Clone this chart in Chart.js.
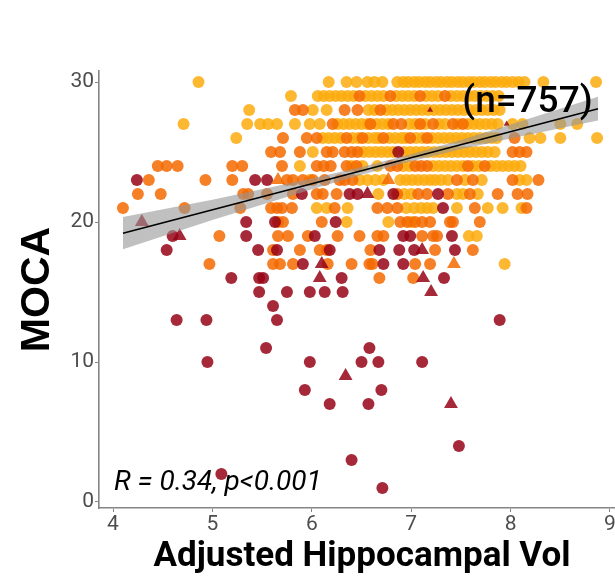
<!DOCTYPE html>
<html>
<head>
<meta charset="utf-8">
<script src="https://cdn.jsdelivr.net/npm/chart.js@4.4.1/dist/chart.umd.min.js"></script>
<style>
  html, body { margin: 0; padding: 0; background: #fff; overflow: hidden; }
  #wrap { width: 615px; height: 579px; overflow: hidden; }
</style>
</head>
<body>
<div id="wrap"><canvas id="mocaChart" width="640" height="579"></canvas></div>
<script>
// Adjusted hippocampal volume vs MOCA score, one [vol, moca] pair per subject
const yellowPts = [
    // 30
    [4.86,30],[6.17,30],[6.35,30],[6.45,30],[6.56,30],[6.63,30],[6.71,30],[6.86,30],[6.92,30],[6.97,30],[7.03,30],[7.08,30],[7.14,30],[7.19,30],[7.25,30],[7.30,30],[7.36,30],[7.41,30],[7.47,30],[7.52,30],[7.58,30],[7.63,30],[7.69,30],[7.74,30],[7.80,30],[7.85,30],[7.91,30],[7.96,30],[8.02,30],[8.08,30],[8.14,30],[8.33,30],[8.86,30],
    // 29
    [5.79,29],[6.06,29],[6.12,29],[6.18,29],[6.24,29],[6.30,29],[6.36,29],[6.42,29],[6.54,29],[6.60,29],[6.66,29],[6.72,29],[6.85,29],[6.91,29],[6.97,29],[7.03,29],[7.15,29],[7.21,29],[7.27,29],[7.40,29],[7.46,29],[7.52,29],[7.58,29],[7.64,29],[7.70,29],[7.76,29],[7.82,29],[7.88,29],
    // 28
    [5.37,28],[6.01,28],[6.15,28],[6.57,28],[6.63,28],[6.75,28],[6.81,28],[6.87,28],[6.93,28],[6.99,28],[7.05,28],[7.11,28],[7.17,28],[7.23,28],[7.29,28],[7.35,28],[7.41,28],[7.47,28],[7.53,28],[7.59,28],[7.65,28],[7.71,28],[7.77,28],[7.83,28],[7.89,28],
    // 27
    [4.71,27],[5.35,27],[5.48,27],[5.56,27],[5.65,27],[5.83,27],[5.98,27],[6.08,27],[6.26,27],[6.32,27],[6.38,27],[6.44,27],[6.50,27],[6.56,27],[6.65,27],[6.71,27],[6.77,27],[6.98,27],[7.04,27],[7.14,27],[7.28,27],[7.34,27],[7.47,27],[7.57,27],[7.63,27],[7.69,27],[7.75,27],[7.81,27],[7.87,27],[8.02,27],[8.12,27],[8.50,27],[8.67,27],
    // 26
    [5.24,26],[6.11,26],[6.17,26],[6.23,26],[6.29,26],[6.41,26],[6.47,26],[6.57,26],[6.63,26],[6.67,26],[6.78,26],[6.84,26],[6.90,26],[6.94,26],[7.05,26],[7.11,26],[7.21,26],[7.27,26],[7.33,26],[7.39,26],[7.45,26],[7.51,26],[7.57,26],[7.63,26],[7.69,26],[7.75,26],[7.81,26],[7.86,26],[8.19,26],[8.30,26],[8.50,26],[8.87,26],
    // 25
    [6.01,25],[6.52,25],[6.58,25],[6.64,25],[6.70,25],[6.76,25],[6.82,25],[6.93,25],[6.99,25],[7.05,25],[7.11,25],[7.17,25],[7.23,25],[7.29,25],[7.35,25],[7.41,25],[7.47,25],[7.53,25],[7.59,25],[7.65,25],[7.71,25],[7.77,25],[7.84,25],
    // 24
    [5.88,24],[6.40,24],[6.51,24],[6.66,24],[6.92,24],[6.98,24],[7.22,24],[7.28,24],[7.34,24],[7.40,24],[7.46,24],[7.52,24],[7.62,24],[7.68,24],[7.80,24],[7.86,24],[7.92,24],[7.98,24],[8.04,24],[8.10,24],
    // 23
    [5.98,23],[6.48,23],[6.56,23],[6.64,23],[6.72,23],[6.89,23],[6.95,23],[7.01,23],[7.07,23],[7.13,23],[7.19,23],[7.24,23],[7.30,23],[7.37,23],[7.54,23],[7.71,23],[8.09,23],[8.16,23],
    // 22
    [6.67,22],[6.93,22],[7.00,22],[7.46,22],[7.52,22],[7.67,22],
    // 21
    [6.05,21],[6.15,21],[6.36,21],[6.95,21],[7.03,21],[7.10,21],[7.16,21],[7.22,21],[7.46,21],[7.77,21],[7.92,21],[8.11,21],
    // 20 and below
    [6.35,20],[6.77,20],[7.00,20],[7.58,19],[7.66,19],[7.94,17]
];

const orangePts = [
    [6.48,29],[6.79,29],[7.09,29],[7.34,29],
    [5.83,28],[5.91,28],[6.33,28],[6.46,28],[6.69,28],
    [6.21,27],[6.59,27],[6.82,27],[6.90,27],[7.09,27],[7.22,27],[7.42,27],[7.52,27],
    [5.71,26],[5.95,26],[6.05,26],[6.35,26],[6.51,26],[6.72,26],[6.99,26],[7.16,26],[8.04,26],
    [5.59,25],[5.68,25],[5.88,25],[6.15,25],[6.21,25],[6.33,25],[6.40,25],[6.46,25],[8.02,25],[8.09,25],[8.16,25],
    [4.45,24],[4.54,24],[4.65,24],[5.20,24],[5.30,24],[5.70,24],[6.05,24],[6.12,24],[6.19,24],[6.35,24],[6.45,24],[6.79,24],[6.86,24],[7.04,24],[7.10,24],[7.16,24],[7.57,24],[7.74,24],
    [4.36,23],[4.93,23],[5.20,23],[5.75,23],[5.81,23],[5.91,23],[6.01,23],[6.13,23],[6.28,23],[6.33,23],[6.41,23],[7.46,23],[7.62,23],[8.02,23],[8.28,23],
    [4.25,22],[4.48,22],[5.31,22],[5.36,22],[5.55,22],[5.81,22],[6.05,22],[6.11,22],[6.25,22],[6.86,22],[7.07,22],[7.16,22],[7.37,22],[7.59,22],[7.87,22],[8.07,22],[8.17,22],
    [4.10,21],[4.72,21],[5.28,21],[5.59,21],[5.65,21],[5.70,21],[5.80,21],[6.23,21],[6.66,21],[6.76,21],[6.86,21],[7.64,21],[8.16,21],
    [5.66,20],[5.71,20],[6.10,20],[6.89,20],[6.96,20],[7.04,20],[7.11,20],[7.19,20],[7.39,20],[7.42,20],[7.69,20],
    [5.07,19],[5.66,19],[5.76,19],[5.96,19],[6.26,19],[6.48,19],[6.66,19],[6.72,19],[7.11,19],[7.22,19],[7.26,19],
    [5.61,18],[5.88,18],[6.08,18],[6.15,18],[6.59,18],[7.24,18],[7.62,18],
    [4.97,17],[5.61,17],[5.68,17],[5.81,17],[6.16,17],[6.40,17],[6.58,17],[6.61,17],[7.04,17],[7.19,17],
    [6.68,16],[7.02,16]
];

const redPts = [
    [6.87,25],
    [4.24,23],[5.43,23],[5.55,23],
    [5.90,22],[6.38,22],[6.46,22],[6.82,22],[7.27,22],
    [7.32,21],
    [5.34,20],[5.63,20],[6.24,20],
    [4.60,19],[5.34,19],[6.03,19],[6.92,19],[6.99,19],[7.41,19],
    [4.54,18],[5.46,18],[5.65,18],[6.18,18],[6.68,18],[6.88,18],[7.03,18],[7.44,18],
    [5.91,17],[6.72,17],[6.92,17],
    [5.19,16],[5.47,16],[5.51,16],[6.30,16],[7.33,16],
    [5.47,15],[5.75,15],[5.98,15],[6.13,15],[6.31,15],
    [5.61,14],
    [4.64,13],[4.94,13],[5.65,13],[7.89,13],
    [5.54,11],[6.58,11],
    [4.95,10],[5.98,10],[6.50,10],[6.67,10],[7.11,10],
    [5.93,8],[6.70,8],
    [6.18,7],[6.57,7],
    [7.48,4],[6.40,3],[5.09,2],[6.71,1]
];

const redTriPts = [[4.29,20],[4.67,19],[6.10,17],[6.08,16],[6.56,22],[7.11,18],[7.12,16],[7.20,15],[6.34,9],[7.40,7]];
const orangeTriPts = [[5.66,23],[6.77,23],[7.43,17]];
const smallTriPts = [[7.19,28],[7.96,27]];

// linear fit and its confidence band
const fitVol = [4.10, 8.88];
const fitMoca = [19.2, 28.1];
const bandVol = [4.10, 5.0, 6.0, 6.5, 7.0, 7.5, 8.0, 8.88];
const bandUpper = [20.35, 21.59, 23.11, 23.94, 24.85, 25.86, 26.96, 28.95];
const bandLower = [18.05, 20.15, 22.35, 23.38, 24.35, 25.20, 25.96, 27.25];

const xTicks = [4, 5, 6, 7, 8, 9];
const yTicks = [0, 10, 20, 30];

const nLabel = '(n=757)';
const nAt = [8.17, 28.55];
const statLabel = 'R = 0.34, p<0.001';
const statAt = [4.01, 1.35];

const toXY = pts => pts.map(p => ({ x: p[0], y: p[1] }));
const zip = (xs, ys) => xs.map((v, i) => ({ x: v, y: ys[i] }));

const YELLOW = 'rgba(253, 171, 14, 0.85)';
const ORANGE = 'rgba(244, 106, 0, 0.85)';
const RED = 'rgba(150, 4, 22, 0.85)';

const pointSet = (data, color, style, radius) => ({
    data: toXY(data),
    backgroundColor: color,
    borderWidth: 0,
    pointStyle: style,
    pointRadius: radius,
    showLine: false
});

// text annotations drawn on top of the plot
const notes = {
    id: 'notes',
    afterDatasetsDraw(chart) {
        const { ctx, scales: { x, y } } = chart;
        ctx.save();
        ctx.fillStyle = '#000';
        ctx.font = '500 37px Roboto';
        ctx.textAlign = 'center';
        ctx.textBaseline = 'middle';
        ctx.fillText(nLabel, x.getPixelForValue(nAt[0]), y.getPixelForValue(nAt[1]));
        ctx.font = 'italic 28px Roboto';
        ctx.textAlign = 'left';
        ctx.fillText(statLabel, x.getPixelForValue(statAt[0]), y.getPixelForValue(statAt[1]));
        ctx.restore();
    }
};

const ctx = document.getElementById('mocaChart').getContext('2d');
const mocaChart = new Chart(ctx, {
    type: 'scatter',
    data: {
        datasets: [
            {
                data: zip(fitVol, fitMoca),
                showLine: true,
                borderColor: '#000',
                borderWidth: 1.5,
                pointRadius: 0
            },
            {
                data: zip(bandVol, bandUpper),
                showLine: true,
                borderWidth: 0,
                pointRadius: 0,
                fill: '+1',
                backgroundColor: 'rgba(150, 150, 150, 0.6)'
            },
            {
                data: zip(bandVol, bandLower),
                showLine: true,
                borderWidth: 0,
                pointRadius: 0
            },
            pointSet(smallTriPts, RED, 'triangle', 3.5),
            pointSet(orangeTriPts, ORANGE, 'triangle', 8),
            pointSet(redTriPts, RED, 'triangle', 8),
            pointSet(redPts, RED, 'circle', 6),
            pointSet(orangePts, ORANGE, 'circle', 6),
            pointSet(yellowPts, YELLOW, 'circle', 6)
        ]
    },
    options: {
        responsive: false,
        animation: false,
        events: [],
        layout: { padding: { top: 71, right: 15, left: 0, bottom: 0 } },
        plugins: {
            legend: { display: false },
            tooltip: { enabled: false }
        },
        scales: {
            x: {
                type: 'linear',
                min: 3.859,
                max: 9.151,
                afterFit: s => { s.height = 71; },
                afterBuildTicks: s => { s.ticks = xTicks.map(v => ({ value: v })); },
                border: { color: '#858585', width: 1.6 },
                grid: { drawOnChartArea: false, drawTicks: true, tickLength: 4, color: '#858585' },
                ticks: { font: { family: 'Roboto', size: 21 }, color: '#4d4d4d', padding: 0, maxRotation: 0 },
                title: {
                    display: true,
                    text: 'Adjusted Hippocampal Vol',
                    font: { family: 'Roboto', size: 35, weight: 'bold' },
                    color: '#000',
                    padding: { bottom: 1 }
                }
            },
            y: {
                type: 'linear',
                min: -0.43,
                max: 30.79,
                afterFit: s => { s.width = 99; },
                afterBuildTicks: s => { s.ticks = yTicks.map(v => ({ value: v })); },
                border: { color: '#858585', width: 1.6 },
                grid: { drawOnChartArea: false, drawTicks: true, tickLength: 4, color: '#858585' },
                ticks: { font: { family: 'Roboto', size: 21 }, color: '#4d4d4d', padding: 1 },
                title: {
                    display: true,
                    text: 'MOCA',
                    font: { family: "'Liberation Sans', Arial, sans-serif", size: 41, weight: 'bold' },
                    color: '#000',
                    padding: { top: 13 }
                }
            }
        }
    },
    plugins: [notes]
});
</script>
</body>
</html>
